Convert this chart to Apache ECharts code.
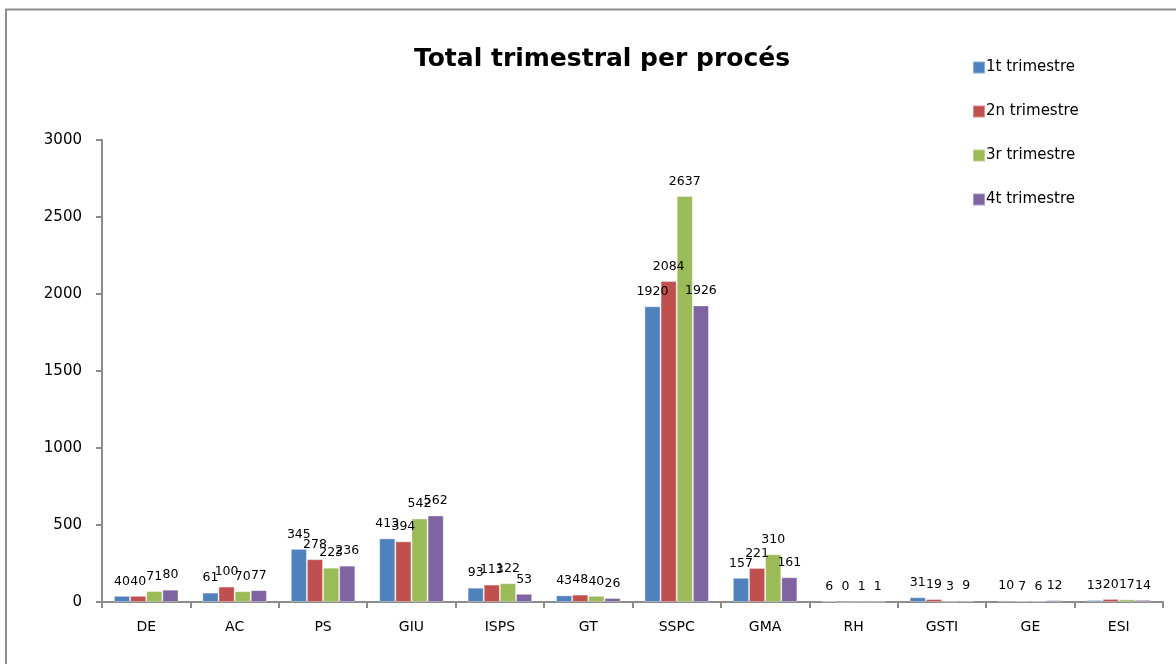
<!DOCTYPE html>
<html>
<head>
<meta charset="utf-8">
<script src="https://cdn.jsdelivr.net/npm/echarts@6/dist/echarts.min.js"></script>
<style>html,body{margin:0;padding:0;background:#fff;}#c{width:1176px;height:664px;}</style>
</head>
<body>
<div id="c"></div>
<script>
var categories = ['DE','AC','PS','GIU','ISPS','GT','SSPC','GMA','RH','GSTI','GE','ESI'];
var seriesNames = ['1t trimestre','2n trimestre','3r trimestre','4t trimestre'];
var q1 = [40, 61, 345, 413, 93, 43, 1920, 157, 6, 31, 10, 13];
var q2 = [40, 100, 278, 394, 113, 48, 2084, 221, 0, 19, 7, 20];
var q3 = [71, 70, 223, 542, 122, 40, 2637, 310, 1, 3, 6, 17];
var q4 = [80, 77, 236, 562, 53, 26, 1926, 161, 1, 9, 12, 14];
var yTicks = [0, 500, 1000, 1500, 2000, 2500, 3000];

var colors = ['#4F81BD','#C0504D','#9BBB59','#8064A2'];
var font = '"DejaVu Sans", "Open Sans", sans-serif';
var data = [q1, q2, q3, q4];
var chart = echarts.init(document.getElementById('c'));
chart.setOption({
  animation: false,
  backgroundColor: '#fff',
  title: {
    text: 'Total trimestral per procés',
    left: 597, top: 42, textAlign: 'center',
    textStyle: {fontFamily: font, fontSize: 25, fontWeight: 'bold', color: '#000'}
  },
  legend: {
    orient: 'vertical', left: 967, top: 55, itemGap: 29,
    itemWidth: 12, itemHeight: 12, icon: 'rect',
    textStyle: {fontFamily: font, fontSize: 15, color: '#000', padding: [0,0,0,-4]},
    data: seriesNames
  },
  graphic: [
    {type: 'polyline', shape: {points: [[6, 700], [6, 9.5], [1200, 9.5]]},
     style: {stroke: '#8c8c8c', lineWidth: 2, fill: null}, silent: true}
  ],
  grid: {left: 102, right: 13, top: 140, bottom: 62, containLabel: false},
  xAxis: {
    type: 'category', data: categories,
    axisLine: {lineStyle: {color: '#8c8c8c', width: 2}},
    axisTick: {show: true, length: 6, lineStyle: {color: '#8c8c8c', width: 2}},
    axisLabel: {fontFamily: font, fontSize: 14, color: '#000', margin: 18}
  },
  yAxis: {
    type: 'value', min: 0, max: 3000, interval: 500,
    axisLine: {show: true, lineStyle: {color: '#8c8c8c', width: 2}},
    axisTick: {show: true, length: 6, lineStyle: {color: '#8c8c8c', width: 2}},
    splitLine: {show: false},
    axisLabel: {fontFamily: font, fontSize: 15, color: '#000', margin: 20,
      formatter: function (v) { return yTicks.indexOf(v) >= 0 ? String(v) : ''; }}
  },
  series: seriesNames.map(function (n, i) {
    return {
      name: n, type: 'bar', data: data[i],
      barGap: '0%', barCategoryGap: '27%',
      itemStyle: {color: colors[i], borderColor: 'rgba(255,255,255,0.35)', borderWidth: 1},
      label: {show: true, position: 'top', distance: 8,
        fontFamily: font, fontSize: 12.5, color: '#000'}
    };
  })
});
</script>
</body>
</html>
